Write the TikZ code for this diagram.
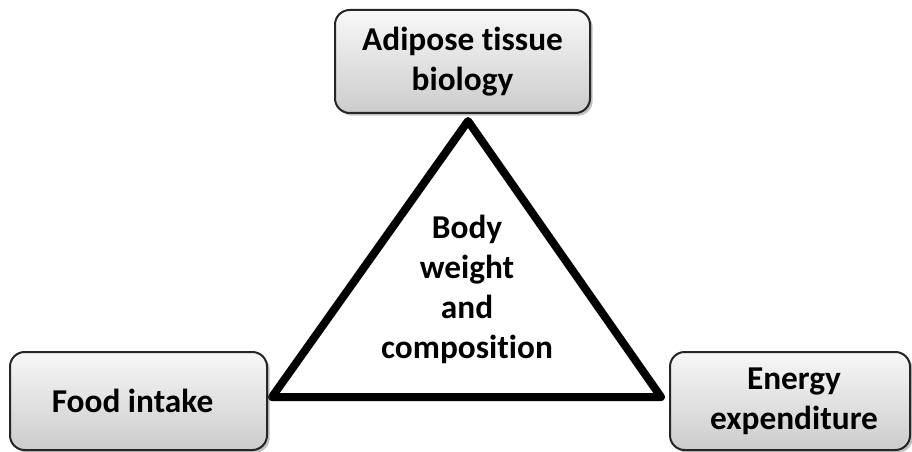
\documentclass[tikz,border=0pt]{standalone}
\usepackage{fontspec}
\setmainfont{Carlito}[Ligatures=NoCommon]
\usetikzlibrary{shadows}

\tikzset{
    factor/.style={draw=black!85, line width=1.5pt, rounded corners=11pt,
        top color=white!97!black, bottom color=black!20,
        drop shadow={shadow xshift=2pt, shadow yshift=-2pt, opacity=0.4, fill=black!60},
        align=center, font=\fontsize{25}{30}\selectfont\bfseries,
        minimum height=73.5pt, inner sep=0pt},
    centre/.style={align=center, font=\fontsize{25}{30}\selectfont\bfseries}
}

\begin{document}
\begin{tikzpicture}[x=0.75pt,y=-0.75pt]
    \useasboundingbox (0,0) rectangle (912,452);
    \fill[white] (0,0) rectangle (912,452);
    \coordinate (top) at (468,121);
    \coordinate (left) at (272,397);
    \coordinate (right) at (661,397);
    \draw[line width=6pt, line join=round] (top) -- (right) -- (left) -- cycle;
    \node[factor, minimum width=191.25pt, minimum height=77.25pt] (adipose) at (462.5,61.5) {Adipose tissue\\biology};
    \node[factor, minimum width=192.75pt] (food) at (138.5,401) {Food intake\hspace{9pt}};
    \node[factor, minimum width=180pt] (energy) at (790,401) {\hspace{6pt}Energy\\\hspace{6pt}expenditure};
    \node[centre] (body) at (467,289) {Body\\weight\\and\\composition};
\end{tikzpicture}
\end{document}
